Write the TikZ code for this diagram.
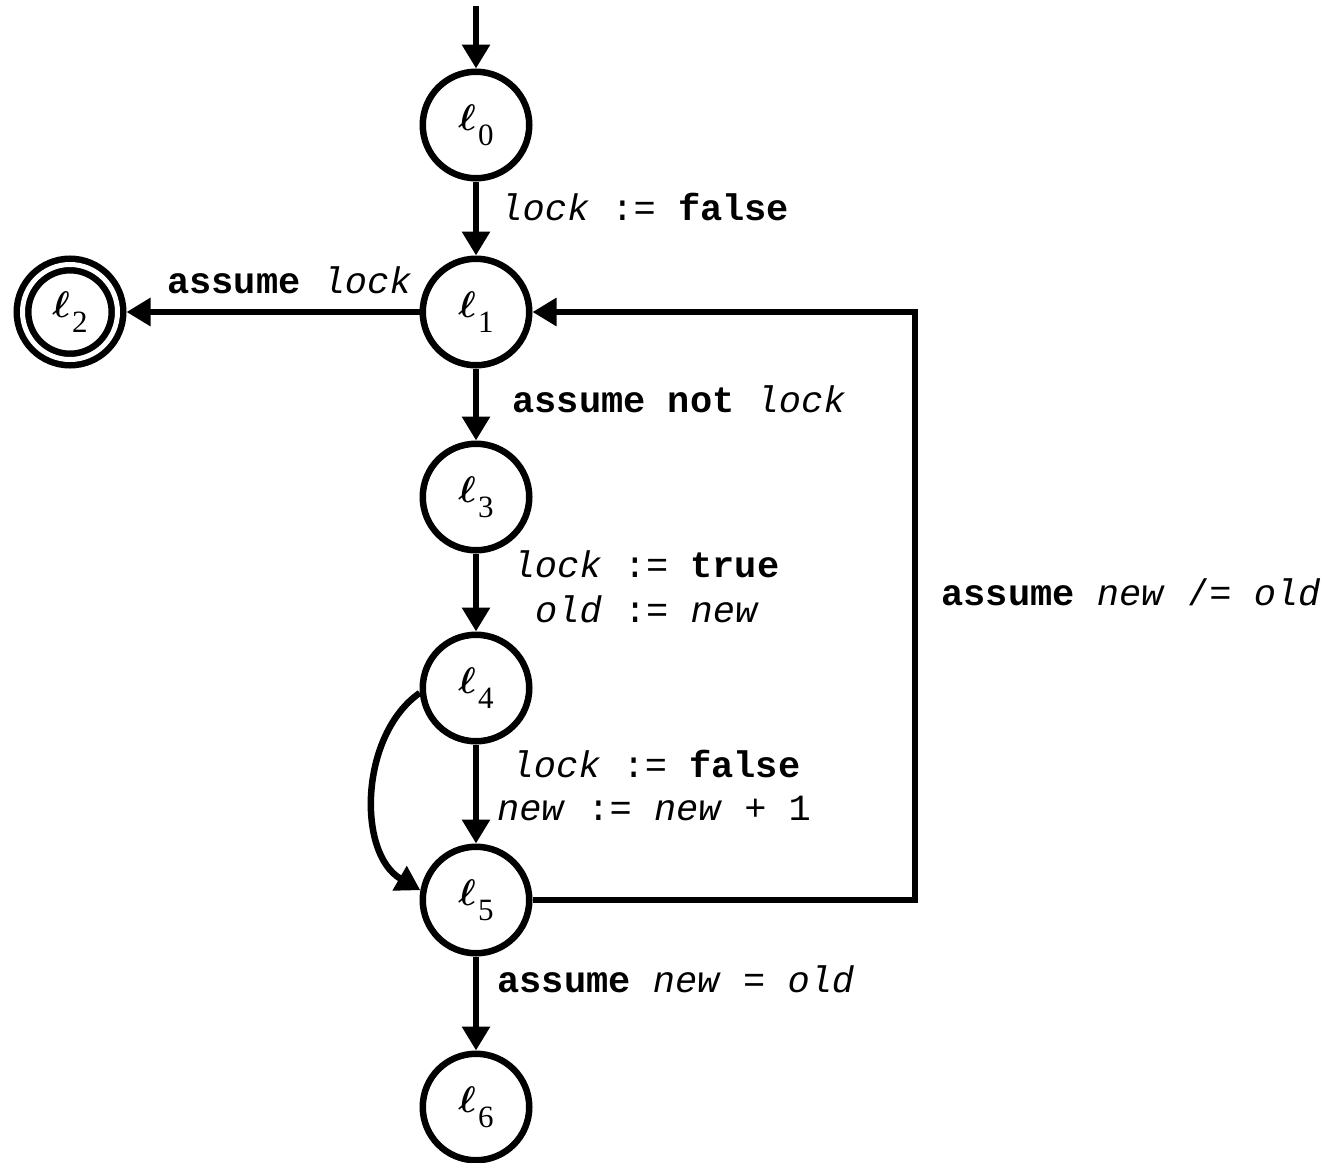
\documentclass[tikz,border=0pt]{standalone}
\usepackage{fontspec}
\setmonofont{Liberation Mono}
\newfontfamily\locfont{Liberation Serif}
\usetikzlibrary{arrows.meta}

% location name: a script l with a lowered index
\newcommand{\locname}[1]{\scalebox{1.85}{\boldmath$\ell$}\kern1pt\raisebox{-7.5pt}{\fontsize{15.5}{16}\locfont #1}}

\begin{document}
\begin{tikzpicture}[x=0.5pt,y=-0.5pt,
  state/.style={draw, circle, line width=3.25pt, minimum size=53.25pt, inner sep=0pt},
  final/.style={state, double, double distance=2.5pt, minimum size=47.5pt, outer sep=4.5pt},
  edge/.style={line width=3.25pt, -{Triangle[length=12pt,width=13.5pt]}},
  lbl/.style={inner sep=0pt, font=\fontsize{18.5}{22.5}\selectfont\ttfamily}]

\useasboundingbox (0,0) rectangle (1336,1162);

% locations
\node[state] (l0) at (476,125) {\locname{0}};
\node[state] (l1) at (476,312) {\locname{1}};
\node[final] (l2) at (70,312) {\locname{2}};
\node[state] (l3) at (476,497) {\locname{3}};
\node[state] (l4) at (476,688) {\locname{4}};
\node[state] (l5) at (476,900) {\locname{5}};
\node[state] (l6) at (476,1107) {\locname{6}};

\coordinate (init) at (476,6);
\coordinate (corner) at (915,900);

% transitions
\draw[edge] (init) -- (l0);
\draw[edge] (l0) -- (l1);
\draw[edge] (l1) -- (l2);
\draw[edge] (l1) -- (l3);
\draw[edge] (l3) -- (l4);
\draw[edge] (l4) -- (l5);
\draw[edge] (l4.185) to[out=215,in=150,looseness=0.95] (l5.170);
\draw[edge] (l5) -- (l6);
\draw[edge] (l5.east) -- (corner) |- (l1);

% transition labels
\node[lbl, anchor=base west] (t01) at (500,220) {\textit{lock} := \textbf{false}};
\node[lbl, anchor=base east] (t12) at (412,293) {\textbf{assume} \textit{lock}};
\node[lbl, anchor=base west] (t13) at (512,412) {\textbf{assume not} \textit{lock}};
\node[lbl, anchor=base] (t34a) at (646,577) {\textit{lock} := \textbf{true}};
\node[lbl, anchor=base] (t34b) at (647,622) {\textit{old} := \textit{new}};
\node[lbl, anchor=base] (t45a) at (656,777) {\textit{lock} := \textbf{false}};
\node[lbl, anchor=base] (t45b) at (654,820) {\textit{new} := \textit{new} + 1};
\node[lbl, anchor=base west] (t56) at (497,992) {\textbf{assume} \textit{new} = \textit{old}};
\node[lbl, anchor=base west] (t51) at (941,605) {\textbf{assume} \textit{new} /= \textit{old}};

\end{tikzpicture}
\end{document}
